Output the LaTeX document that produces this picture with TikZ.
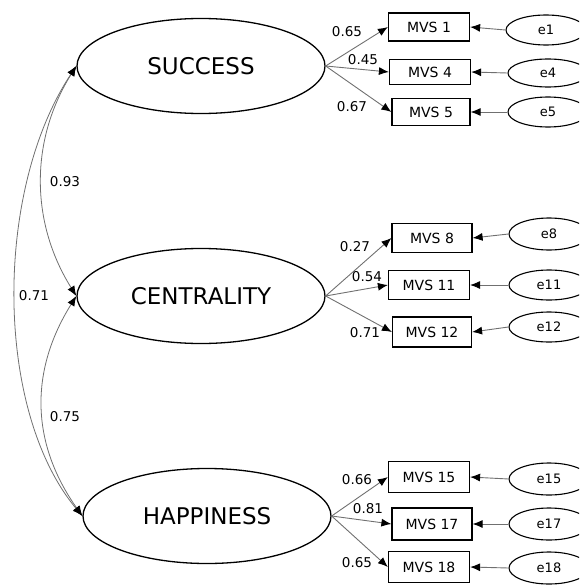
\documentclass[tikz,border=0pt]{standalone}
\usepackage{fontspec}
\setmainfont{DejaVu Sans}
\usetikzlibrary{arrows.meta, shapes.geometric}
\definecolor{pathGray}{HTML}{707070}

\begin{document}
\begin{tikzpicture}[x=1pt, y=-1pt,
    latent/.style={draw, ellipse, line width=1.3pt, minimum width=248pt, minimum height=95pt, inner sep=0pt, font=\fontsize{23}{25}\selectfont},
    obs/.style={draw, rectangle, line width=1.2pt, minimum width=81pt, minimum height=29pt, inner sep=0pt, font=\fontsize{14}{16}\selectfont},
    err/.style={draw, ellipse, line width=1.1pt, minimum width=80pt, minimum height=30pt, inner sep=0pt, font=\fontsize{13}{15}\selectfont},
    load/.style={-{Latex[black, length=10pt, width=8pt]}, pathGray, line width=0.9pt},
    cov/.style={{Latex[black, length=10pt, width=8pt]}-{Latex[black, length=10pt, width=8pt]}, pathGray, line width=0.8pt},
    lbl/.style={inner sep=1pt, font=\fontsize{13.5}{15}\selectfont}]
  \useasboundingbox (0,0) rectangle (579,586);
  \clip (0,0) rectangle (579,586);
  % latent factors
  \node[latent] (succ) at (201,66) {SUCCESS};
  \node[latent] (cent) at (201,296) {CENTRALITY};
  \node[latent] (happ) at (207,516) {HAPPINESS};
  % observed items
  \node[obs, minimum height=28pt] (m1) at (429,27) {MVS 1};
  \node[obs, minimum height=25pt] (m4) at (430,72) {MVS 4};
  \node[obs, minimum height=27pt, minimum width=78pt] (m5) at (431,112) {MVS 5};
  \node[obs, minimum width=80pt] (m8) at (432,238) {MVS 8};
  \node[obs] (m11) at (429,285) {MVS 11};
  \node[obs, minimum height=30pt, minimum width=79pt] (m12) at (432,332) {MVS 12};
  \node[obs, minimum height=31pt] (m15) at (429,477) {MVS 15};
  \node[obs, minimum height=32pt, minimum width=80pt] (m17) at (432,524) {MVS 17};
  \node[obs, minimum height=31pt] (m18) at (429,567) {MVS 18};
  % error terms
  \node[err] (e1) at (546,30) {e1};
  \node[err, minimum height=28pt] (e4) at (548,73) {e4};
  \node[err] (e5) at (548,112) {e5};
  \node[err, minimum height=32pt] (e8) at (549,234) {e8};
  \node[err] (e11) at (549,285) {e11};
  \node[err] (e12) at (549,327) {e12};
  \node[err, minimum height=32pt] (e15) at (549,479) {e15};
  \node[err, minimum height=32pt] (e17) at (549,524) {e17};
  \node[err, minimum height=32pt] (e18) at (549,568) {e18};
  % loadings
  \foreach \f/\m in {succ/m1, succ/m4, succ/m5, cent/m8, cent/m11, cent/m12, happ/m15, happ/m17, happ/m18}
    \draw[load] (\f.east) -- (\m.west);
  \foreach \e/\m in {e1/m1, e4/m4, e5/m5, e8/m8, e11/m11, e12/m12, e15/m15, e17/m17, e18/m18}
    \draw[load] (\e.west) -- (\m.east);
  \node[lbl] (l1) at (347,32) {0.65};
  \node[lbl] (l4) at (363,60) {0.45};
  \node[lbl] (l5) at (352,107) {0.67};
  \node[lbl] (l8) at (355,247) {0.27};
  \node[lbl] (l11) at (367,277) {0.54};
  \node[lbl] (l12) at (365,333) {0.71};
  \node[lbl] (l15) at (357,480) {0.66};
  \node[lbl] (l17) at (368,509) {0.81};
  \node[lbl] (l18) at (357,563) {0.65};
  % covariances
  \draw[cov] (succ.west) .. controls (30,140) and (30,222) .. (cent.west);
  \draw[cov] (cent.west) .. controls (30,370) and (30,442) .. (happ.west);
  \draw[cov] (succ.west) .. controls (-6,190) and (-6,410) .. (happ.west);
  \node[lbl] (c12) at (65,182) {0.93};
  \node[lbl] (c23) at (65,417) {0.75};
  \node[lbl] (c13) at (34,296) {0.71};
\end{tikzpicture}
\end{document}
